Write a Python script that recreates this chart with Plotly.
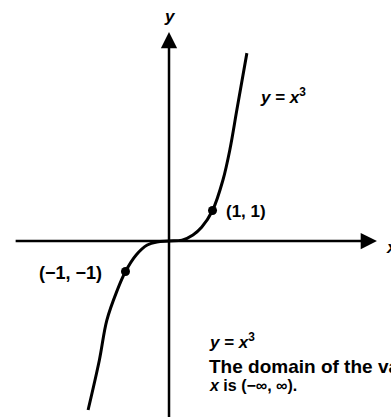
import plotly.graph_objects as go

curve_x = [-1.86, -1.6, -1.43, -1.2, -1.0, -0.75, -0.5, -0.28, 0.0, 0.3, 0.55, 0.75, 1.0, 1.24, 1.4, 1.56, 1.79]
curve_y = [-5.54, -3.9, -2.6, -1.65, -1.0, -0.45, -0.13, -0.03, 0.0, 0.03, 0.2, 0.45, 1.0, 2.0, 3.0, 4.3, 6.16]

# labelled points
dot_x = [1, -1]
dot_y = [1, -1]
dot_labels = ["(1, 1)", "(\u22121, \u22121)"]

# axis extents (data units)
x_axis_ends = [-3.56, 4.78]
y_axis_ends = [-6.0, 6.85]

FONT = "Liberation Sans, Arial, sans-serif"

fig = go.Figure()

fig.add_trace(go.Scatter(x=curve_x, y=curve_y, mode="lines",
                         line=dict(color="black", width=3, shape="spline"),
                         hoverinfo="skip", showlegend=False))
fig.add_trace(go.Scatter(x=dot_x, y=dot_y, mode="markers",
                         marker=dict(color="black", size=9),
                         showlegend=False))

annos = []
# axes drawn as arrows
annos.append(dict(x=x_axis_ends[1], y=0, ax=x_axis_ends[0], ay=0,
                  xref="x", yref="y", axref="x", ayref="y", text="",
                  showarrow=True, arrowhead=2, arrowsize=1.3, arrowwidth=2.5,
                  arrowcolor="black", standoff=0))
annos.append(dict(x=0, y=y_axis_ends[1], ax=0, ay=y_axis_ends[0],
                  xref="x", yref="y", axref="x", ayref="y", text="",
                  showarrow=True, arrowhead=2, arrowsize=1.3, arrowwidth=2.5,
                  arrowcolor="black", standoff=0))

annos += [
    dict(x=0.02, y=7.35, text="<b><i>y</i></b>", xanchor="center", yanchor="middle", size=17),
    dict(x=4.94, y=-0.2, text="<b><i>x</i></b>", xanchor="left", yanchor="middle", size=17),
    dict(x=2.05, y=4.75, text="<b><i>y</i> = <i>x</i><sup>3</sup></b>", xanchor="left", yanchor="middle", size=17),
    dict(x=1.26, y=0.97, text="<b>" + dot_labels[0] + "</b>", xanchor="left", yanchor="middle", size=17),
    dict(x=-1.49, y=-1.05, text="<b>" + dot_labels[1] + "</b>", xanchor="right", yanchor="middle", size=18),
    dict(x=0.87, y=-3.28, text="<b><i>y</i> = <i>x</i><sup>3</sup></b>", xanchor="left", yanchor="middle", size=17),
    dict(x=0.87, y=-4.13, text="<b>The domain of the variable</b>", xanchor="left", yanchor="middle", size=19),
    dict(x=0.87, y=-4.75, text="<b><i>x</i> is (\u2212\u221e, \u221e).</b>", xanchor="left", yanchor="middle", size=16),
]
for a in annos[2:]:
    a.update(xref="x", yref="y", showarrow=False,
             font=dict(family=FONT, size=a.pop("size"), color="black"))

fig.update_layout(
    width=391, height=417,
    margin=dict(l=0, r=0, t=0, b=0),
    plot_bgcolor="white", paper_bgcolor="white",
    annotations=annos,
    xaxis=dict(range=[-3.885, 5.103], visible=False),
    yaxis=dict(range=[-5.770, 7.902], visible=False),
)

# page body margin would shift the figure by 8px
fig.write_html("out.html", config={"displayModeBar": False},
               post_script="document.body.style.margin='0';")
